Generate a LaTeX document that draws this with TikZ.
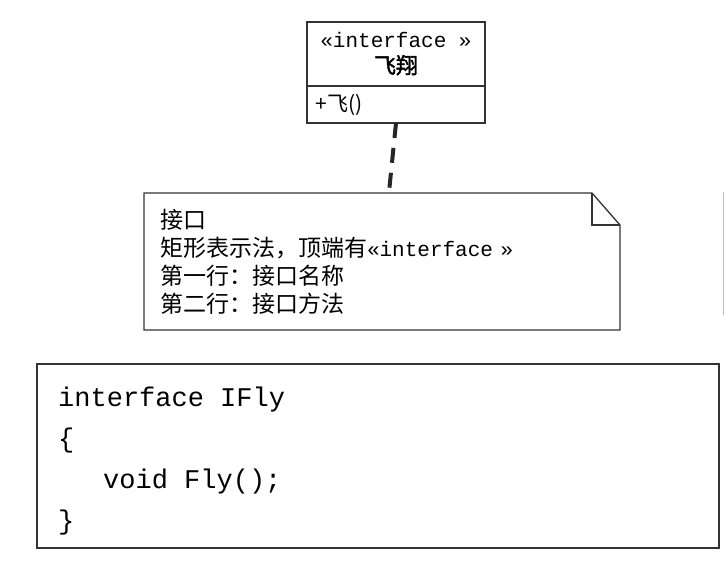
\documentclass[tikz,border=0pt]{standalone}
\usepackage{fontspec}
\setmainfont{Liberation Serif}
\setmonofont{Liberation Mono}
\newfontfamily\cjk{Noto Sans CJK SC}
\newfontfamily\cjkbold{Noto Sans CJK SC}[FakeBold=2]
\usetikzlibrary{positioning}

\begin{document}
\begin{tikzpicture}[
  x=1pt, y=-1pt,
  line/.style={draw=black!80, line width=1.6pt},
  classhead/.style={line, minimum width=178pt, minimum height=64pt, inner sep=0pt,
                    outer sep=0pt, align=center},
  classbody/.style={line, minimum width=178pt, minimum height=37pt, inner sep=0pt,
                    outer sep=0pt},
  notebox/.style={minimum width=476pt, minimum height=137pt, inner xsep=16pt, outer sep=0pt,
                  text width=444pt, align=left, font=\cjk\fontsize{23}{28}\selectfont},
  codebox/.style={line, minimum width=682pt, minimum height=184pt, outer sep=0pt},
  codetext/.style={inner sep=0pt, align=left, font=\ttfamily\fontsize{27}{41}\selectfont},
  realize/.style={draw=black!85, line width=4pt, dash pattern=on 15pt off 10pt}
]
  \useasboundingbox (0,0) rectangle (725,565);

  % interface box
  \node[classhead, anchor=north west] (fly) at (307,22)
    {{\ttfamily\fontsize{21}{24}\selectfont «interface »}\\[6pt]{\cjkbold\fontsize{22}{24}\selectfont 飞翔}};
  \node[classbody, below=0pt of fly] (flyops) {};
  \node[anchor=west, font=\cjk\fontsize{21}{24}\selectfont] (flyop) at ([xshift=5pt]flyops.west) {+飞()};

  % note
  \node[notebox, anchor=north west] (note) at (144,193)
    {接口\\
     矩形表示法，顶端有{\ttfamily\fontsize{21}{28}\selectfont «interface »}\\
     第一行：接口名称\\
     第二行：接口方法};
  \draw[line, line width=1.3pt] (note.north west) -- ([xshift=-28pt]note.north east)
    -- ([yshift=-32pt]note.north east) -- (note.south east) -- (note.south west) -- cycle;
  \draw[line, line width=1.3pt] ([xshift=-28pt]note.north east)
    -- ([xshift=-28pt, yshift=-32pt]note.north east) -- ([yshift=-32pt]note.north east);

  \coordinate (tip) at (389,192);
  \draw[realize] (flyops.south) -- (tip);

  % code
  \node[codebox, anchor=north west] (code) at (37,364) {};
  \node[codetext, anchor=west] (codetext) at ([xshift=21pt, yshift=-5pt]code.west)
    {interface IFly\\
     \{\\
     \hspace*{45pt}void Fly();\\
     \}};

  \draw[black!25, line width=1pt] (723,192) -- (723,315);
\end{tikzpicture}
\end{document}
